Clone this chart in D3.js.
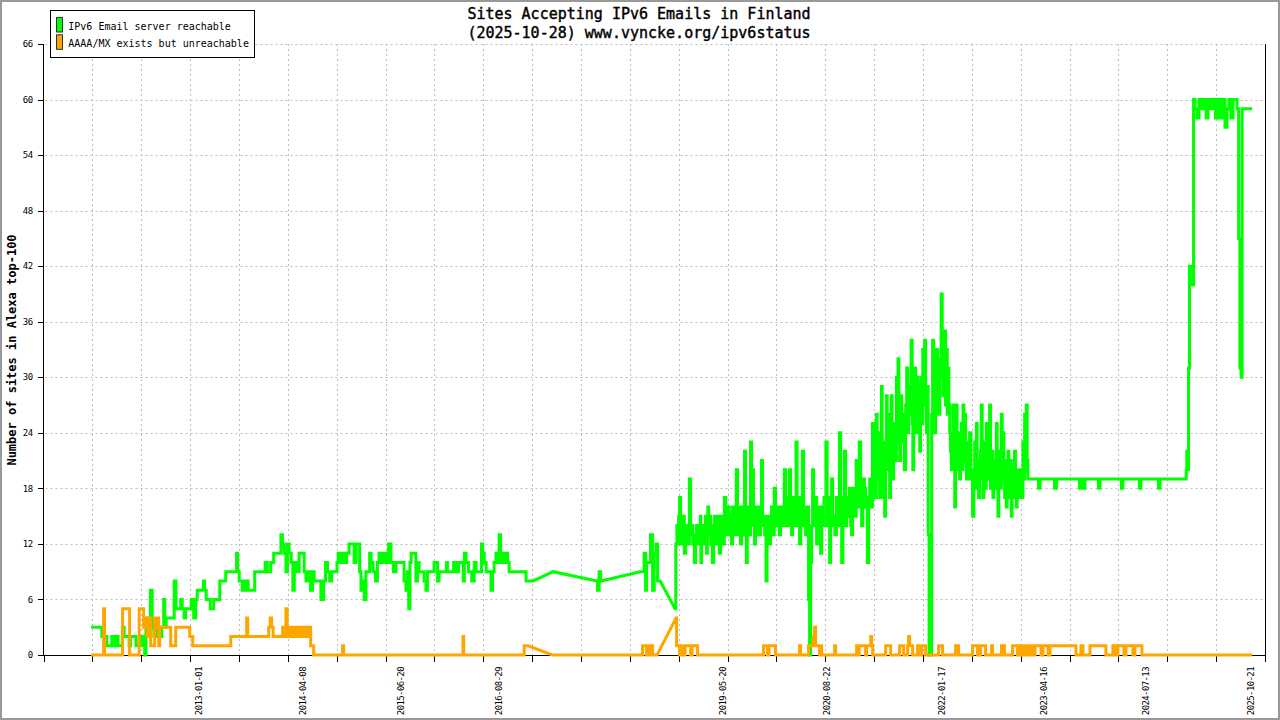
<!DOCTYPE html>
<html>
<head>
<meta charset="utf-8">
<script src="https://cdn.jsdelivr.net/npm/d3@7"></script>
<style>
  html, body { margin: 0; padding: 0; background: #fff; }
  svg { display: block; }
</style>
</head>
<body>
<svg id="chart" width="1280" height="720"></svg>
<script>
// ---------------- DATA (time as decimal year, value = number of sites) ----------------
const titleLines = ["Sites Accepting IPv6 Emails in Finland", "(2025-10-28) www.vyncke.org/ipv6status"];
const yAxisTitle = "Number of sites in Alexa top-100";
const seriesNames = ["IPv6 Email server reachable", "AAAA/MX exists but unreachable"];
const seriesColors = ["#00ff00", "#ffa500"];
const xTickLabels = ["2013-01-01", "2014-04-08", "2015-06-20", "2016-08-29", "2019-05-20", "2020-08-22", "2022-01-17", "2023-04-16", "2024-07-13", "2025-10-21"];
const yTicks = [0, 6, 12, 18, 24, 30, 36, 42, 48, 54, 60, 66];
const xDomainYears = [2011.115, 2025.976];

const reachable = [
[2011.695,3],[2011.823,3],[2011.829,2],[2011.883,2],[2011.889,1],[2011.944,1],[2011.950,2],[2011.981,2],[2011.987,1],[2012.011,2],[2012.035,1],[2012.066,1],[2012.084,3],[2012.108,2],[2012.145,2],[2012.169,1],[2012.181,2],[2012.230,2],[2012.254,1],[2012.291,1],[2012.315,2],[2012.339,1],[2012.352,0],[2012.370,3],[2012.400,4],[2012.431,7],[2012.443,3],[2012.473,2],[2012.498,3],[2012.534,2],[2012.571,3],[2012.583,6],[2012.595,3],[2012.619,4],[2012.692,4],[2012.717,8],[2012.735,5],[2012.777,5],[2012.790,6],[2012.814,5],[2012.838,4],[2012.850,5],[2012.899,5],[2012.923,6],[2012.960,4],[2012.972,6],[2012.996,7],[2013.057,7],[2013.063,8],[2013.081,7],[2013.106,6],[2013.179,5],[2013.191,6],[2013.252,6],[2013.264,8],[2013.325,8],[2013.337,9],[2013.459,9],[2013.467,11],[2013.483,9],[2013.507,8],[2013.556,7],[2013.580,8],[2013.629,7],[2013.665,7],[2013.702,9],[2013.799,9],[2013.824,10],[2013.848,9],[2013.909,10],[2013.921,11],[2013.994,11],[2014.012,13],[2014.030,12],[2014.055,11],[2014.073,9],[2014.091,12],[2014.115,11],[2014.140,10],[2014.156,7],[2014.176,10],[2014.213,9],
[2014.237,11],[2014.274,11],[2014.298,9],[2014.319,8],[2014.347,9],[2014.380,7],[2014.395,9],[2014.420,8],[2014.481,8],[2014.499,6],[2014.517,6],[2014.529,8],[2014.562,10],[2014.578,9],[2014.614,8],[2014.626,9],[2014.684,9],[2014.687,10],[2014.712,11],[2014.724,10],[2014.748,11],[2014.785,10],[2014.821,11],[2014.845,12],[2014.882,12],[2014.906,10],[2014.931,12],[2014.955,12],[2014.967,9],[2014.988,7],[2015.004,8],[2015.028,6],[2015.049,9],[2015.077,9],[2015.089,11],[2015.113,10],[2015.137,9],[2015.170,8],[2015.186,10],[2015.210,11],[2015.235,10],[2015.271,11],[2015.296,10],[2015.332,12],[2015.353,10],[2015.393,9],[2015.417,10],[2015.454,10],[2015.490,10],[2015.515,8],[2015.535,7],[2015.551,9],[2015.567,5],[2015.581,10],[2015.596,11],[2015.636,11],[2015.657,8],[2015.673,10],[2015.697,9],[2015.734,9],[2015.758,8],[2015.779,7],[2015.794,9],[2015.855,9],[2015.880,10],[2015.904,10],[2015.916,8],[2015.940,9],[2016.013,9],[2016.022,10],[2016.038,9],[2016.086,9],[2016.123,10],[2016.147,9],[2016.184,10],[2016.220,10],[2016.226,8],[2016.245,11],[2016.269,10],[2016.305,9],[2016.345,8],[2016.366,10],[2016.390,9],[2016.439,9],[2016.448,12],[2016.467,11],[2016.488,10],[2016.512,9],[2016.549,9],[2016.569,7],[2016.585,9],[2016.609,10],[2016.630,11],[2016.646,10],[2016.670,13],[2016.682,11],[2016.707,10],[2016.752,11],[2016.768,10],[2016.792,9],[2016.828,9],[2016.974,9],[2016.995,8],[2017.072,8],[2017.315,9],[2017.847,8],[2017.862,7],[2017.887,9],[2017.899,8],[2018.373,9],
[2018.410,9],[2018.434,11],[2018.446,7],[2018.459,10],[2018.483,10],[2018.516,13],[2018.535,7],[2018.556,11],[2018.580,12],[2018.592,8],[2018.617,8],[2018.799,5],
[2018.817,12],[2018.826,14],[2018.836,12],[2018.848,15],[2018.860,17],[2018.872,12],[2018.884,13],[2018.902,15],[2018.921,11],[2018.933,14],[2018.945,13],[2018.963,12],[2018.982,19],[2018.994,13],[2019.006,14],[2019.024,12],[2019.043,10],[2019.055,13],[2019.067,14],[2019.085,12],[2019.103,13],[2019.110,15],[2019.116,10],[2019.128,13],[2019.140,14],[2019.152,12],[2019.164,12],[2019.176,15],[2019.189,11],[2019.195,14],[2019.201,16],[2019.213,13],[2019.225,15],[2019.243,12],[2019.262,10],[2019.274,14],[2019.286,15],[2019.298,13],[2019.310,12],[2019.328,15],[2019.347,11],[2019.359,14],[2019.371,15],[2019.390,12],[2019.408,17],[2019.420,14],[2019.432,13],[2019.450,16],[2019.468,15],[2019.480,13],[2019.493,12],[2019.505,16],[2019.517,15],[2019.535,13],[2019.553,20],[2019.565,13],[2019.578,14],[2019.590,16],[2019.602,12],[2019.614,16],[2019.626,15],[2019.638,13],[2019.651,22],[2019.661,14],[2019.671,10],[2019.685,16],[2019.699,15],[2019.711,13],[2019.724,23],[2019.736,14],[2019.748,20],[2019.760,15],[2019.772,12],[2019.784,15],[2019.797,16],[2019.815,13],[2019.833,13],[2019.845,16],[2019.858,21],[2019.870,14],[2019.882,15],[2019.898,13],[2019.915,8],[2019.923,14],[2019.931,15],[2019.943,13],[2019.955,12],[2019.967,15],[2019.979,16],[2019.997,13],
[2020.016,18],[2020.028,14],[2020.040,15],[2020.058,16],[2020.077,13],[2020.089,15],[2020.101,16],[2020.119,14],[2020.137,20],[2020.155,15],[2020.174,14],[2020.186,17],[2020.198,20],[2020.210,15],[2020.223,13],[2020.235,17],[2020.247,16],[2020.263,14],[2020.280,23],[2020.288,16],[2020.296,14],[2020.308,17],[2020.320,12],[2020.338,16],[2020.356,22],[2020.368,14],[2020.381,16],[2020.393,13],[2020.405,14],[2020.417,16],[2020.429,6],[2020.442,0],[2020.454,10],[2020.466,14],[2020.478,20],[2020.490,14],[2020.502,15],[2020.515,17],[2020.527,12],[2020.539,15],[2020.551,16],[2020.563,14],[2020.575,11],[2020.588,16],[2020.600,14],[2020.622,17],[2020.645,23],[2020.653,14],[2020.661,15],[2020.673,17],[2020.685,10],[2020.697,15],[2020.709,19],[2020.721,14],[2020.734,15],[2020.752,13],[2020.770,17],[2020.788,14],[2020.807,24],[2020.819,16],[2020.831,10],[2020.849,17],[2020.867,22],[2020.879,14],[2020.892,15],[2020.910,17],[2020.928,18],[2020.940,14],[2020.952,13],[2020.964,18],[2020.977,17],[2020.993,15],
[2021.010,21],[2021.030,16],[2021.050,23],[2021.062,17],[2021.074,14],[2021.092,19],[2021.111,18],[2021.129,16],[2021.147,10],[2021.160,17],[2021.172,19],[2021.190,16],[2021.208,25],[2021.220,18],[2021.232,20],[2021.242,17],[2021.253,26],[2021.261,19],[2021.269,20],[2021.281,24],[2021.293,17],[2021.304,22],[2021.314,29],[2021.322,20],[2021.330,17],[2021.342,23],[2021.354,15],[2021.364,22],[2021.375,28],[2021.383,20],[2021.390,22],[2021.402,26],[2021.415,17],[2021.424,22],[2021.433,28],[2021.442,21],[2021.451,19],[2021.463,25],[2021.476,24],[2021.486,21],[2021.496,30],[2021.506,23],[2021.516,32],[2021.526,25],[2021.536,21],[2021.548,28],[2021.561,26],[2021.579,23],[2021.597,20],[2021.610,27],[2021.622,31],[2021.634,24],[2021.646,26],[2021.662,29],[2021.679,34],[2021.687,25],[2021.695,20],[2021.707,28],[2021.719,31],[2021.731,24],[2021.743,26],[2021.752,30],[2021.761,29],[2021.770,24],[2021.780,22],[2021.790,28],[2021.800,30],[2021.808,25],[2021.816,33],[2021.828,27],[2021.841,34],[2021.851,27],[2021.861,24],[2021.872,29],[2021.883,13],[2021.895,0],[2021.914,0],[2021.926,26],[2021.938,34],[2021.950,28],[2021.962,24],[2021.975,30],[2021.987,33],[2021.999,27],
[2022.011,26],[2022.028,32],[2022.044,39],[2022.054,30],[2022.063,28],[2022.074,32],[2022.084,35],[2022.095,27],[2022.105,33],[2022.115,26],[2022.124,31],[2022.135,27],[2022.145,24],[2022.155,22],[2022.165,20],[2022.175,24],[2022.185,27],[2022.196,21],[2022.206,16],[2022.216,22],[2022.226,27],[2022.234,20],[2022.242,21],[2022.254,24],[2022.266,19],[2022.277,22],[2022.287,25],[2022.297,20],[2022.307,27],[2022.317,21],[2022.327,26],[2022.338,22],[2022.348,19],[2022.356,23],[2022.364,22],[2022.376,19],[2022.388,24],[2022.408,20],[2022.428,15],[2022.439,20],[2022.449,23],[2022.460,18],[2022.470,25],[2022.478,19],[2022.485,21],[2022.498,17],[2022.510,19],[2022.520,22],[2022.530,27],[2022.540,19],[2022.550,17],[2022.561,21],[2022.571,23],[2022.581,18],[2022.591,25],[2022.601,20],[2022.611,19],[2022.621,22],[2022.631,27],[2022.642,18],[2022.652,20],[2022.662,22],[2022.671,17],[2022.682,20],[2022.692,21],[2022.703,18],[2022.713,25],[2022.723,19],[2022.732,15],[2022.743,20],[2022.753,22],[2022.764,18],[2022.774,26],[2022.784,19],[2022.793,24],[2022.804,20],[2022.814,17],[2022.824,21],[2022.834,16],[2022.844,20],[2022.854,22],[2022.865,17],[2022.875,18],[2022.885,21],[2022.895,15],[2022.903,19],[2022.911,20],[2022.923,17],[2022.935,22],[2022.946,18],[2022.956,16],[2022.966,19],[2022.976,20],[2022.986,18],[2022.996,17],
[2023.007,20],[2023.017,19],[2023.027,17],[2023.036,23],[2023.047,19],[2023.057,26],[2023.068,20],[2023.078,27],[2023.088,21],[2023.097,19],[2023.118,19],
[2023.215,19],[2023.227,18],[2023.252,19],[2023.410,19],[2023.422,18],[2023.459,19],[2023.714,19],[2023.726,18],[2023.750,19],[2023.775,18],[2023.799,19],[2023.945,19],[2023.957,18],[2023.982,19],[2024.224,19],[2024.236,18],[2024.260,19],[2024.443,19],[2024.455,18],[2024.479,19],[2024.674,19],[2024.686,18],[2024.710,19],[2025.014,19],
[2025.021,20],[2025.027,22],[2025.039,20],[2025.051,31],[2025.063,42],[2025.088,42],[2025.100,40],[2025.112,60],[2025.136,59],[2025.161,58],[2025.185,60],[2025.221,59],[2025.246,60],[2025.270,58],[2025.294,60],[2025.331,59],[2025.367,60],[2025.380,58],[2025.416,60],[2025.453,58],[2025.477,60],[2025.501,57],[2025.526,59],[2025.550,60],[2025.574,58],[2025.599,60],[2025.623,60],[2025.647,59],[2025.663,45],[2025.678,31],[2025.692,30],[2025.702,59],[2025.732,59],[2025.820,59]
];

const unreachable = [
[2011.695,0],[2011.841,0],[2011.853,5],[2011.865,0],[2012.072,0],[2012.084,5],[2012.157,5],[2012.169,0],[2012.273,0],[2012.285,5],[2012.327,5],[2012.339,3],[2012.364,4],[2012.388,2],[2012.412,4],[2012.425,1],[2012.461,1],[2012.473,4],[2012.498,3],[2012.510,4],[2012.522,1],[2012.534,3],[2012.595,3],[2012.656,3],[2012.668,1],[2012.717,1],[2012.729,3],[2012.887,3],[2012.899,2],[2012.923,2],[2012.936,1],[2013.386,1],[2013.398,2],[2013.580,2],[2013.592,4],[2013.605,2],[2013.848,2],[2013.860,3],[2013.884,4],[2013.896,3],[2013.921,2],[2014.018,2],[2014.030,3],[2014.055,2],[2014.073,5],[2014.085,2],[2014.103,3],[2014.115,2],[2014.128,3],[2014.140,2],[2014.164,3],[2014.176,2],[2014.201,3],[2014.213,2],[2014.237,3],[2014.262,2],[2014.286,3],[2014.298,2],[2014.322,3],[2014.347,2],[2014.359,3],[2014.371,1],[2014.395,1],[2014.408,0],[2014.748,0],[2014.760,1],[2014.772,0],[2016.214,0],[2016.224,2],[2016.232,0],[2016.950,0],[2016.974,1],[2017.011,1],[2017.303,0],[2018.398,0],[2018.410,1],[2018.446,1],[2018.459,0],[2018.471,1],[2018.495,1],[2018.507,0],[2018.519,1],[2018.532,0],[2018.580,0],[2018.811,4],[2018.824,1],[2018.848,1],[2018.860,0],[2018.872,1],[2018.897,1],[2018.909,0],[2018.933,1],[2018.982,1],[2018.994,0],[2019.018,1],[2019.067,1],[2019.079,0],[2019.870,0],[2019.882,1],[2019.918,1],[2019.931,0],[2019.955,1],[2020.016,1],[2020.028,0],[2020.308,0],[2020.320,1],[2020.332,0],[2020.417,0],[2020.429,1],[2020.466,1],[2020.490,2],[2020.502,3],[2020.515,1],[2020.551,1],[2020.563,0],[2020.575,1],[2020.588,0],[2020.734,0],[2020.746,1],[2020.758,0],[2021.001,0],[2021.013,1],[2021.026,0],[2021.050,1],[2021.111,1],[2021.123,0],[2021.135,1],[2021.172,1],[2021.184,2],[2021.196,1],[2021.208,0],[2021.354,0],[2021.366,1],[2021.415,1],[2021.427,0],[2021.524,0],[2021.536,1],[2021.573,1],[2021.585,0],[2021.622,0],[2021.634,1],[2021.646,2],[2021.658,1],[2021.682,1],[2021.695,0],[2021.743,0],[2021.755,1],[2021.780,1],[2021.792,0],[2021.804,1],[2021.841,1],[2021.853,0],[2021.999,0],[2022.011,1],[2022.047,1],[2022.060,0],[2022.206,0],[2022.218,1],[2022.242,1],[2022.254,0],[2022.412,0],[2022.425,1],[2022.473,1],[2022.485,0],[2022.510,0],[2022.522,1],[2022.571,1],[2022.583,0],[2022.644,0],[2022.656,1],[2022.668,0],[2022.765,0],[2022.777,1],[2022.802,1],[2022.814,0],[2022.899,0],[2022.911,1],[2022.960,1],[2022.972,0],[2022.996,0],[2023.009,1],[2023.045,0],[2023.069,1],[2023.106,0],[2023.130,1],[2023.167,0],[2023.191,1],[2023.240,1],[2023.264,0],[2023.288,1],[2023.325,1],[2023.349,0],[2023.373,1],[2023.665,1],[2023.690,0],[2023.726,0],[2023.750,1],[2023.775,0],[2023.836,0],[2023.860,1],[2024.029,1],[2024.054,0],[2024.114,0],[2024.139,1],[2024.175,0],[2024.200,1],[2024.248,1],[2024.273,0],[2024.297,1],[2024.358,1],[2024.382,0],[2024.406,1],[2024.467,1],[2024.491,0],[2025.820,0]
];

// ---------------- RENDER ----------------
function yearToDate(t) {
  const y = Math.floor(t);
  const a = Date.UTC(y, 0, 1), b = Date.UTC(y + 1, 0, 1);
  return new Date(a + (t - y) * (b - a));
}
function parseDay(s) { const p = s.split("-").map(Number); return new Date(Date.UTC(p[0], p[1] - 1, p[2])); }

const svg = d3.select("#chart");
const mono = "'DejaVu Sans Mono', 'Liberation Mono', monospace";
const plot = { left: 43.5, right: 1265, top: 44, bottom: 655 };

const d0 = yearToDate(xDomainYears[0]), d1 = yearToDate(xDomainYears[1]);
const x = d3.scaleUtc().domain([d0, d1]).range([plot.left, plot.right]);
const y = d3.scaleLinear().domain([0, 66]).range([plot.bottom, plot.top]);

// outer frame
svg.append("rect").attr("x", 1).attr("y", 1).attr("width", 1278).attr("height", 718)
  .attr("fill", "#fff").attr("stroke", "#999").attr("stroke-width", 2);

// evenly spaced x ticks (25 intervals)
const nInt = 25;
const xTickDates = d3.range(nInt + 1).map(i => new Date(+d0 + i * (d1 - d0) / nInt));

// grid
const grid = svg.append("g").attr("stroke", "#bdbdbd").attr("stroke-width", 1).attr("stroke-dasharray", "2,3");
grid.selectAll("line.h").data(yTicks.filter(v => v > 0)).join("line")
  .attr("x1", plot.left + 2).attr("x2", plot.right)
  .attr("y1", d => Math.round(y(d)) + 0.5).attr("y2", d => Math.round(y(d)) + 0.5);
grid.selectAll("line.v").data(xTickDates.slice(1, -1)).join("line")
  .attr("x1", d => Math.round(x(d)) + 0.5).attr("x2", d => Math.round(x(d)) + 0.5)
  .attr("y1", plot.top).attr("y2", plot.bottom);

// axes
const ax = svg.append("g").attr("stroke", "#000").attr("stroke-width", 1).attr("shape-rendering", "crispEdges");
ax.append("line").attr("x1", 43.5).attr("x2", 43.5).attr("y1", plot.top).attr("y2", plot.bottom);
ax.append("line").attr("x1", 1265.5).attr("x2", 1265.5).attr("y1", plot.top).attr("y2", plot.bottom);
ax.append("line").attr("x1", 43).attr("x2", 1266).attr("y1", 655.5).attr("y2", 655.5);
ax.selectAll("line.yt").data(yTicks).join("line")
  .attr("x1", 38).attr("x2", 43.5)
  .attr("y1", d => Math.round(y(d)) + 0.5).attr("y2", d => Math.round(y(d)) + 0.5);
ax.selectAll("line.xt").data(xTickDates).join("line")
  .attr("x1", d => Math.round(x(d)) + 0.5).attr("x2", d => Math.round(x(d)) + 0.5)
  .attr("y1", 655).attr("y2", 662);

// y tick labels
svg.append("g").selectAll("text").data(yTicks).join("text")
  .attr("x", 32.5).attr("y", d => y(d)).attr("dy", "0.35em")
  .attr("text-anchor", "end").attr("font-family", mono).attr("font-size", 9)
  .attr("letter-spacing", -0.6).attr("fill", "#000")
  .text(d => d);

// x tick labels (rotated)
svg.append("g").selectAll("text").data(xTickLabels).join("text")
  .attr("transform", d => `translate(${x(parseDay(d)) + 3.3},667) rotate(-90)`)
  .attr("text-anchor", "end").attr("font-family", mono).attr("font-size", 9)
  .attr("letter-spacing", -0.6).attr("fill", "#000")
  .text(d => d);

// y axis title
svg.append("text").attr("transform", "translate(16,350) rotate(-90)")
  .attr("text-anchor", "middle").attr("font-family", mono).attr("font-weight", "bold")
  .attr("font-size", 12).attr("fill", "#000").text(yAxisTitle);

// title
svg.append("g").selectAll("text").data(titleLines).join("text")
  .attr("x", 639).attr("y", (d, i) => 19 + i * 18.5)
  .attr("text-anchor", "middle").attr("font-family", mono)
  .attr("font-size", 15).attr("fill", "#000").attr("stroke", "#000").attr("stroke-width", 0.4)
  .text(d => d);

// series lines: consecutive daily samples are drawn as steps, sampling gaps as straight lines
const gapYears = 0.1;
function seriesPath(data) {
  let p = "";
  data.forEach((d, i) => {
    const px = x(yearToDate(d[0])), py = y(d[1]);
    if (i === 0) { p += `M${px},${py}`; return; }
    const prev = data[i - 1];
    if (d[0] - prev[0] > gapYears) {
      p += `L${px},${py}`;
    } else {
      const pxPrev = x(yearToDate(prev[0]));
      const xm = (pxPrev + px) / 2;
      p += `H${xm}V${py}H${px}`;
    }
  });
  return p;
}
const series = [reachable, unreachable];
svg.append("g").selectAll("path").data(series).join("path")
  .attr("d", d => seriesPath(d))
  .attr("fill", "none")
  .attr("stroke", (d, i) => seriesColors[i])
  .attr("stroke-width", 3)
  .attr("stroke-linejoin", "miter")
  .attr("stroke-linecap", "butt");

// legend
const lg = svg.append("g");
lg.append("rect").attr("x", 50.5).attr("y", 10.5).attr("width", 204).attr("height", 47)
  .attr("fill", "#fff").attr("stroke", "#000");
seriesNames.forEach((name, i) => {
  lg.append("rect").attr("x", 56.5).attr("y", 17.5 + i * 17.3).attr("width", 6).attr("height", 14.5)
    .attr("fill", seriesColors[i]).attr("stroke", "#333").attr("stroke-width", 1);
  lg.append("text").attr("x", 68.3).attr("y", 30 + i * 16.7)
    .attr("font-family", mono).attr("font-size", 10).attr("fill", "#000").text(name);
});
</script>
</body>
</html>
